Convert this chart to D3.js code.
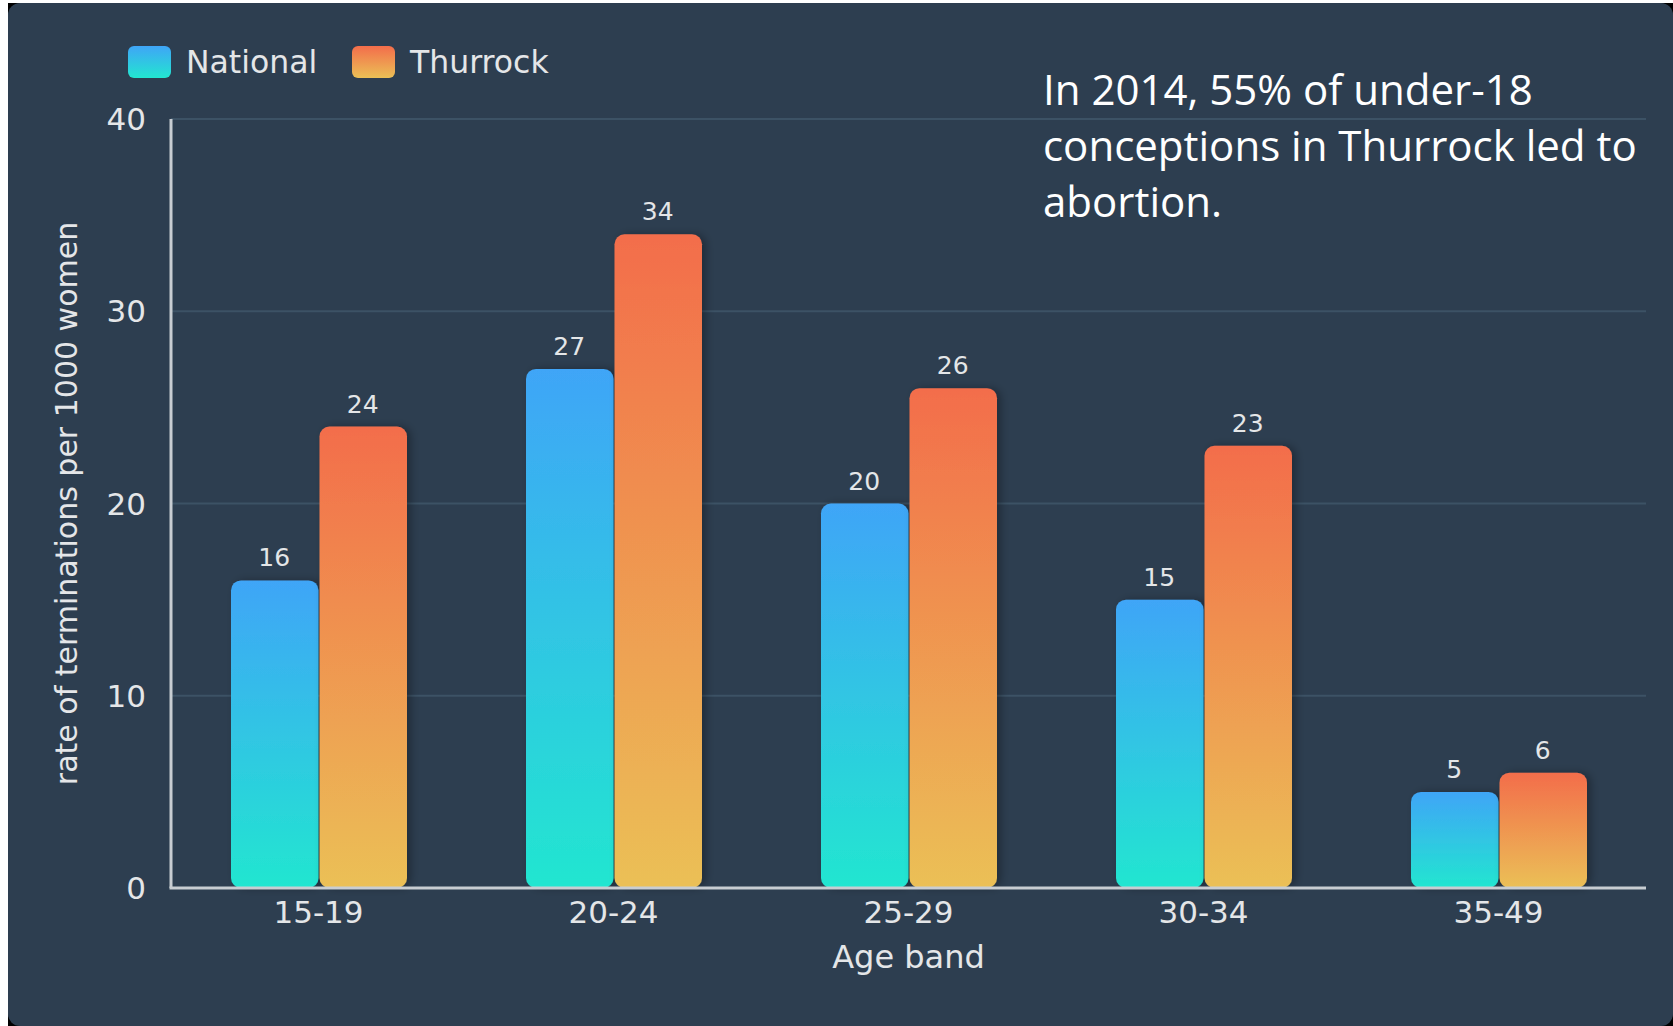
<!DOCTYPE html>
<html><head>
<meta charset="utf-8">
<script src="https://d3js.org/d3.v7.min.js"></script>
<title>Terminations by age band</title>
<style>
body { margin: 0; background: #fff; }
text { font-family: "DejaVu Sans", sans-serif; fill: #e4e6e8; }
</style>
</head>
<body>
<script>
// donnees
const categories = ["15-19", "20-24", "25-29", "30-34", "35-49"];
const series = ["National", "Thurrock"];
const national = [16, 27, 20, 15, 5];
const thurrock = [24, 34, 26, 23, 6];
const yTicks = [0, 10, 20, 30, 40];
const note = ["In 2014, 55% of under-18", "conceptions in Thurrock led to", "abortion."];

const W = 1673, H = 1026;
const margin = {top: 119, right: 27, bottom: 138, left: 171};

const svg = d3.select("body").append("svg")
    .attr("width", W)
    .attr("height", H);

// fond
svg.append("rect").attr("x", 8).attr("y", 3).attr("width", W).attr("height", H).attr("fill", "#000");
svg.append("rect").attr("x", 8).attr("y", 3).attr("width", W - 8).attr("height", H - 3)
    .attr("rx", 12).attr("fill", "#2d3e50");

const defs = svg.append("defs");
const couleurs = {
    National: ["#3fa5f7", "#22e6d0"],
    Thurrock: ["#f36d4b", "#ebc056"]
};
series.forEach(s => {
    let g = defs.append("linearGradient").attr("id", "grad-" + s)
        .attr("x1", 0).attr("y1", 0).attr("x2", 0).attr("y2", 1);
    g.append("stop").attr("offset", "0%").attr("stop-color", couleurs[s][0]);
    g.append("stop").attr("offset", "100%").attr("stop-color", couleurs[s][1]);
});
defs.append("filter").attr("id", "ombre")
    .attr("x", "-20%").attr("y", "-10%").attr("width", "150%").attr("height", "130%")
    .append("feDropShadow")
    .attr("dx", 4).attr("dy", 0).attr("stdDeviation", 4)
    .attr("flood-color", "#000").attr("flood-opacity", 0.3);

const x0 = d3.scaleBand()
    .domain(categories)
    .range([margin.left, W - margin.right])
    .paddingInner(0.4)
    .paddingOuter(0.2);

const x1 = d3.scaleBand()
    .domain(series)
    .range([0, x0.bandwidth()]);

const y = d3.scaleLinear()
    .domain([0, 40])
    .range([H - margin.bottom, margin.top]);

// grille
svg.append("g").selectAll("line")
    .data(yTicks.filter(d => d > 0))
    .enter().append("line")
    .attr("x1", margin.left).attr("x2", W - margin.right)
    .attr("y1", d => y(d)).attr("y2", d => y(d))
    .attr("stroke", "#3c5265").attr("stroke-width", 2);

// barres
const data = categories.map((c, i) => ({cat: c, vals: [
    {serie: "National", v: national[i]},
    {serie: "Thurrock", v: thurrock[i]}
]}));

const groupes = svg.append("g").selectAll("g")
    .data(data)
    .enter().append("g")
    .attr("transform", d => "translate(" + x0(d.cat) + ",0)");

groupes.selectAll("rect")
    .data(d => d.vals)
    .enter().append("rect")
    .attr("x", d => x1(d.serie) + 1)
    .attr("width", x1.bandwidth() - 1)
    .attr("y", d => y(d.v))
    .attr("height", d => y(0) - y(d.v))
    .attr("rx", 10)
    .attr("fill", d => "url(#grad-" + d.serie + ")")
    .attr("filter", "url(#ombre)");

groupes.selectAll("text.valeur")
    .data(d => d.vals)
    .enter().append("text")
    .attr("class", "valeur")
    .attr("x", d => x1(d.serie) + x1.bandwidth() / 2)
    .attr("y", d => y(d.v) - 14)
    .attr("text-anchor", "middle")
    .style("font-size", "25px")
    .text(d => d.v);

// axes
svg.append("line")
    .attr("x1", margin.left).attr("x2", margin.left)
    .attr("y1", y(40)).attr("y2", y(0))
    .attr("stroke", "#c8cdd2").attr("stroke-width", 3);
svg.append("line")
    .attr("x1", margin.left - 1.5).attr("x2", W - margin.right)
    .attr("y1", y(0)).attr("y2", y(0))
    .attr("stroke", "#c8cdd2").attr("stroke-width", 3);

svg.append("g").selectAll("text")
    .data(yTicks)
    .enter().append("text")
    .attr("x", 146)
    .attr("y", d => y(d))
    .attr("dy", "0.36em")
    .attr("text-anchor", "end")
    .style("font-size", "31px")
    .text(d => d);

svg.append("g").selectAll("text")
    .data(categories)
    .enter().append("text")
    .attr("x", d => x0(d) + x0.bandwidth() / 2)
    .attr("y", y(0) + 35)
    .attr("text-anchor", "middle")
    .style("font-size", "31px")
    .text(d => d);

svg.append("text")
    .attr("x", (margin.left + W - margin.right) / 2)
    .attr("y", 968)
    .attr("text-anchor", "middle")
    .style("font-size", "32px")
    .text("Age band");

svg.append("text")
    .attr("transform", "translate(77," + (margin.top + H - margin.bottom) / 2 + ") rotate(-90)")
    .attr("text-anchor", "middle")
    .style("font-size", "30px")
    .text("rate of terminations per 1000 women");

// legende
const legende = svg.append("g").selectAll("g")
    .data(series)
    .enter().append("g")
    .attr("transform", (d, i) => "translate(" + [128, 352][i] + ",46)");
legende.append("rect")
    .attr("width", 43).attr("height", 32).attr("rx", 6)
    .attr("fill", d => "url(#grad-" + d + ")");
legende.append("text")
    .attr("x", 58).attr("y", 16).attr("dy", "0.36em")
    .style("font-size", "31.5px")
    .text(d => d);

// annotation
svg.append("g").selectAll("text")
    .data(note)
    .enter().append("text")
    .attr("x", 1043)
    .attr("y", (d, i) => 105 + i * 56)
    .style("font-family", "'Open Sans', sans-serif")
    .style("font-size", "42px")
    .style("fill", "#ffffff")
    .text(d => d);
</script>
</body>
</html>
